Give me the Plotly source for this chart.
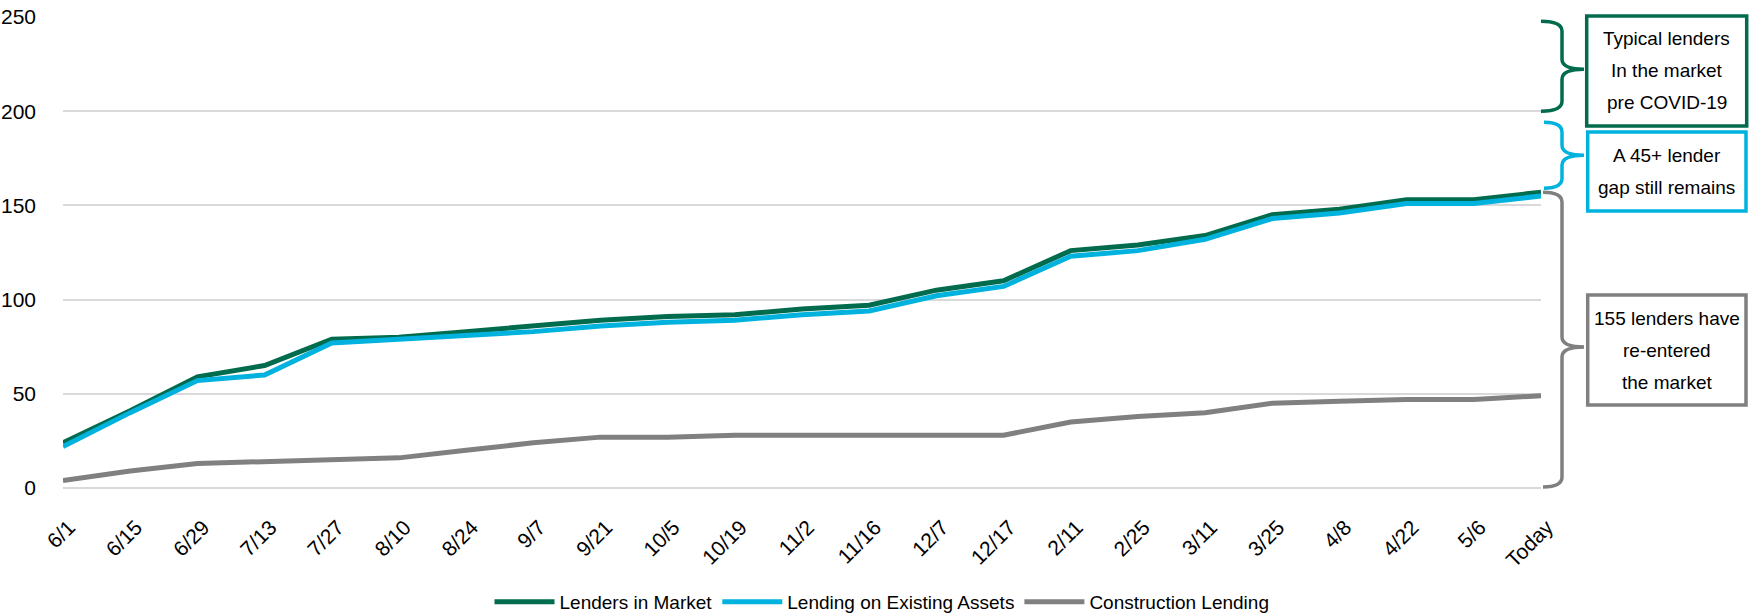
import plotly.graph_objects as go

dates = ["6/1", "6/15", "6/29", "7/13", "7/27", "8/10", "8/24", "9/7", "9/21", "10/5",
         "10/19", "11/2", "11/16", "12/7", "12/17", "2/11", "2/25", "3/11", "3/25",
         "4/8", "4/22", "5/6", "Today"]
lenders_in_market = [24, 41, 59, 65, 79, 80, 83, 86, 89, 91, 92, 95, 97, 105, 110,
                     126, 129, 134, 145, 148, 153, 153, 157]
existing_assets = [22, 40, 57, 60, 77, 79, 81, 83, 86, 88, 89, 92, 94, 102, 107,
                   123, 126, 132, 143, 146, 151, 151, 155]
construction = [4, 9, 13, 14, 15, 16, 20, 24, 27, 27, 28, 28, 28, 28, 28,
                35, 38, 40, 45, 46, 47, 47, 49]
series_names = ["Lenders in Market", "Lending on Existing Assets", "Construction Lending"]
y_ticks = [0, 50, 100, 150, 200, 250]
box_lines = [["Typical lenders", "In the market", "pre COVID-19"],
             ["A 45+ lender", "gap still remains"],
             ["155 lenders have", "re-entered", "the market"]]

GREEN = "#006B4D"
BLUE = "#00B2DD"
GRAY = "#808080"
FONT = "Liberation Sans, Arial, sans-serif"

W, H = 1749, 616
L, R, T, B = 63, 1541, 16.7, 488


def px(x):
    return (x - L) / (R - L)


def py(y):
    return (B - y) / (B - T)


fig = go.Figure()
for vals, name, col in zip([lenders_in_market, existing_assets, construction],
                           series_names, [GREEN, BLUE, GRAY]):
    fig.add_trace(go.Scatter(x=dates, y=vals, name=name, mode="lines",
                             line=dict(color=col, width=5)))


def brace(x0, xm, xt, ytop, ybot, ytip, col):
    pts = (f"M {px(x0)},{py(ytop)} Q {px(xm)},{py(ytop)} {px(xm)},{py(ytop + 10)} "
           f"L {px(xm)},{py(ytip - 10)} Q {px(xm)},{py(ytip)} {px(xt)},{py(ytip)} "
           f"Q {px(xm)},{py(ytip)} {px(xm)},{py(ytip + 10)} "
           f"L {px(xm)},{py(ybot - 10)} Q {px(xm)},{py(ybot)} {px(x0)},{py(ybot)}")
    return dict(type="path", xref="paper", yref="paper", path=pts,
                line=dict(color=col, width=3.5))


shapes = [
    brace(1541, 1562, 1584, 21, 111, 69, GREEN),
    brace(1544, 1562, 1584, 122, 188, 155, BLUE),
    brace(1543, 1562, 1584, 192, 487, 347, GRAY),
]
boxes = [(1586.7, 15.7, 1746.7, 125.7, GREEN),
         (1587.7, 131.7, 1746, 210.7, BLUE),
         (1587.7, 295, 1746, 405, GRAY)]
annotations = []
LINE_GAP = 32
for (x0, y0, x1, y1, col), lines in zip(boxes, box_lines):
    shapes.append(dict(type="rect", xref="paper", yref="paper",
                       x0=px(x0), x1=px(x1), y0=py(y1), y1=py(y0),
                       line=dict(color=col, width=3.5), fillcolor="rgba(0,0,0,0)"))
    cy = (y0 + y1) / 2
    n = len(lines)
    for i, txt in enumerate(lines):
        ly = cy + (i - (n - 1) / 2) * LINE_GAP
        annotations.append(dict(xref="paper", yref="paper", x=px((x0 + x1) / 2),
                                y=py(ly), text=txt, showarrow=False,
                                xanchor="center", yanchor="middle", align="center",
                                font=dict(family=FONT, size=19, color="#000000")))

fig.update_layout(
    width=W, height=H,
    margin=dict(l=L, r=W - R, t=T, b=H - B, autoexpand=False),
    paper_bgcolor="white", plot_bgcolor="white",
    font=dict(family=FONT, color="#000000"),
    showlegend=True,
    legend=dict(orientation="h", x=px(882), xanchor="center", y=py(602), yanchor="middle",
                font=dict(family=FONT, size=19), itemwidth=60,
                bgcolor="rgba(0,0,0,0)"),
    shapes=shapes,
    annotations=annotations,
    hovermode=False,
)
fig.update_xaxes(type="category", showgrid=False, zeroline=False, showline=False,
                 ticks="", tickangle=-45, tickfont=dict(size=21), ticklabelstandoff=22,
                 ticklabelshift=6, automargin=False)
fig.update_yaxes(range=[0, 250], tickvals=y_ticks, showgrid=True, gridcolor="#D9D9D9",
                 gridwidth=1.5, zeroline=True, zerolinecolor="#D9D9D9", zerolinewidth=1.5,
                 showline=False, ticks="", tickfont=dict(size=21), ticklabelstandoff=26,
                 automargin=False)

fig.write_html("out.html", config={"displayModeBar": False},
               post_script="document.body.style.margin='0';")
